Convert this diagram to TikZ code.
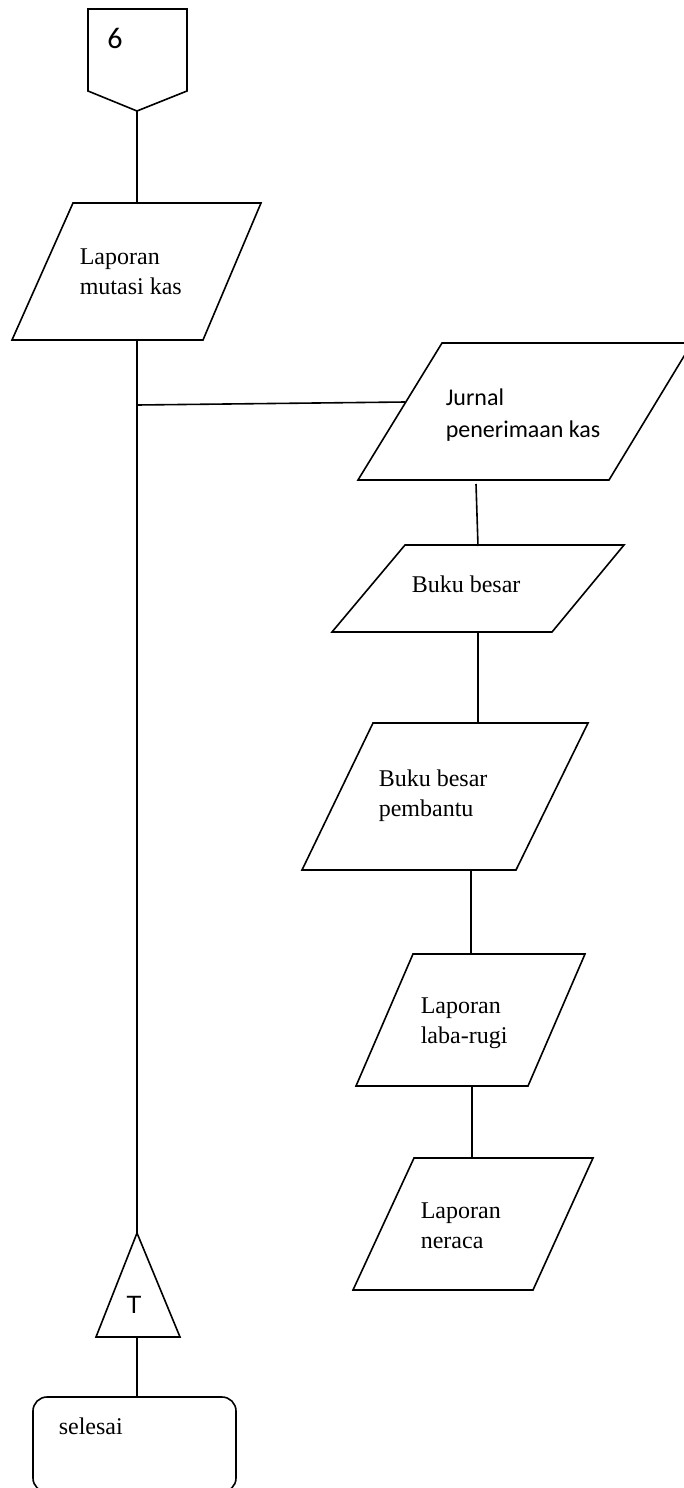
\documentclass[tikz,border=0pt]{standalone}
\usepackage{fontspec}
\setmainfont{Liberation Serif}
\newfontfamily\calibrifont{Carlito}
\newfontfamily\arialfont{Liberation Sans}

\begin{document}
\begin{tikzpicture}[x=0.5pt,y=-0.5pt,line width=0.8pt]
        %
        % `doc' is used for the text in the parallelograms (documents).
        % `docsans' is the same, but set in Calibri.
        % `sign' is used for the letters of the connector and the triangle.
        \tikzstyle{doc} = [anchor=base west,align=left,inner sep=0pt,font=\fontsize{12}{15}\selectfont]
        \tikzstyle{docsans} = [doc,font=\calibrifont\fontsize{12}{16}\selectfont]
        \tikzstyle{sign} = [anchor=base,inner sep=0pt,font=\arialfont\fontsize{12.5}{15}\selectfont]
        \tikzstyle{flow} = [draw,line join=miter]
        %
        % Page
        \useasboundingbox (0,0) rectangle (684,1488);
        \clip (0,0) rectangle (684,1488);
        %
        % Off-page connector
        \draw[flow] (88,9) -- (187,9) -- (187,91) -- (137,111) -- (88,91) -- cycle;
        \coordinate (con6) at (137,111);
        \node[sign,font=\calibrifont\fontsize{15}{18}\selectfont] (six) at (115,48) {6};
        %
        % Laporan mutasi kas
        \draw[flow] (73,203) -- (261,203) -- (203,340) -- (12,340) -- cycle;
        \coordinate (mutT) at (137,203);
        \coordinate (mutB) at (137,340);
        \node[doc] (mutasi) at (79,294) {Laporan\\mutasi kas};
        %
        % Jurnal penerimaan kas
        \draw[flow] (442,343) -- (692,343) -- (609,480) -- (358,480) -- cycle;
        \coordinate (split) at (137,405);
        \coordinate (jurL) at (405,402);
        \coordinate (jurB) at (476,484);
        \node[docsans] (jurnal) at (445,437) {Jurnal\\penerimaan kas};
        %
        % Buku besar
        \draw[flow] (405,545) -- (624,545) -- (552,632) -- (332,632) -- cycle;
        \coordinate (bukuT) at (478,546);
        \coordinate (bukuB) at (478,632);
        \node[doc] (buku) at (411,592) {Buku besar};
        %
        % Buku besar pembantu
        \draw[flow] (373,723) -- (588,723) -- (516,870) -- (302,870) -- cycle;
        \coordinate (pembT) at (478,723);
        \coordinate (pembB) at (471,870);
        \node[doc] (pembantu) at (378,816) {Buku besar\\pembantu};
        %
        % Laporan laba-rugi
        \draw[flow] (413,954) -- (585,954) -- (528,1086) -- (356,1086) -- cycle;
        \coordinate (labaT) at (471,954);
        \coordinate (labaB) at (472,1086);
        \node[doc] (labarugi) at (420,1043) {Laporan\\laba-rugi};
        %
        % Laporan neraca
        \draw[flow] (414,1158) -- (593,1158) -- (533,1290) -- (353,1290) -- cycle;
        \coordinate (nerT) at (472,1158);
        \node[doc] (neraca) at (420,1248) {Laporan\\neraca};
        %
        % Triangle (archive)
        \draw[flow] (137,1233) -- (180,1337) -- (96,1337) -- cycle;
        \coordinate (triT) at (137,1233);
        \coordinate (triB) at (137,1337);
        \node[sign] (tee) at (134,1313) {T};
        %
        % End
        \draw[flow,rounded corners=7pt] (33,1397) rectangle (236,1492);
        \coordinate (endT) at (137,1397);
        \node[doc] (selesai) at (58,1434) {selesai};
        %
        % Flow lines
        \draw (con6) -- (mutT);
        \draw (mutB) -- (triT);
        \draw (split) -- (jurL);
        \draw (jurB) -- (bukuT);
        \draw (bukuB) -- (pembT);
        \draw (pembB) -- (labaT);
        \draw (labaB) -- (nerT);
        \draw (triB) -- (endT);
        %
\end{tikzpicture}
\end{document}
